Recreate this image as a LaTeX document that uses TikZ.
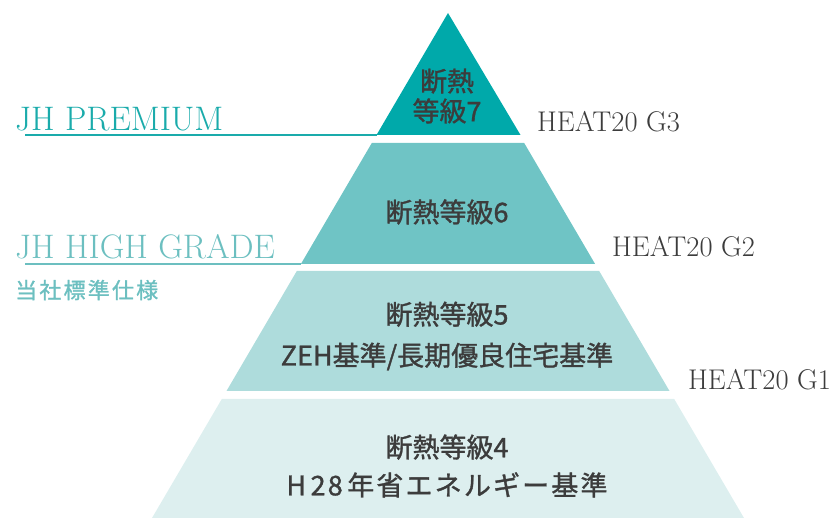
\documentclass[tikz,border=0pt]{standalone}
\usepackage{fontspec}
\newfontfamily\cjk{Noto Sans CJK JP}[FakeBold=1.2]
\newfontfamily\cjkwide{Noto Sans CJK JP}[FakeBold=1.2, LetterSpace=8]

\definecolor{levelseven}{HTML}{00A9AA}
\definecolor{levelsix}{HTML}{6FC4C5}
\definecolor{levelfive}{HTML}{AEDCDC}
\definecolor{levelfour}{HTML}{DDEFEF}
\definecolor{premcol}{HTML}{1AABAB}
\definecolor{highcol}{HTML}{6CBFC0}
\definecolor{inkgray}{HTML}{3C3C3C}

\tikzset{
  lvltext/.style={font=\cjk\fontsize{27}{41}\selectfont, text=inkgray, align=center},
  heatlabel/.style={font=\fontsize{28.5}{30}\selectfont, text=inkgray, anchor=west, inner sep=0pt},
  gradelabel/.style={font=\fontsize{34}{36}\selectfont, anchor=base west, inner sep=0pt},
}

\begin{document}
\begin{tikzpicture}[x=1pt, y=-1pt]
\useasboundingbox (0,0) rectangle (836,518);

% Level 7
\fill[levelseven] (448,13) -- (520.5,135) -- (376.5,135) -- cycle;
\coordinate (t7left) at (376.5,135);
\node[lvltext, font=\cjk\fontsize{27}{30}\selectfont] at (447,96) (l7) {断熱\\等級7};

% Level 6
\fill[levelsix] (371.8,143) -- (524.2,143) -- (595.1,264) -- (300.9,264) -- cycle;
\coordinate (t6left) at (300.9,264);
\node[lvltext] at (447,212) (l6) {断熱等級6};

% Level 5
\fill[levelfive] (296.8,271) -- (599.2,271) -- (669.5,391) -- (226.5,391) -- cycle;
\node[lvltext] at (447,336) (l5) {断熱等級5\\ZEH基準/長期優良住宅基準};

% Level 4
\fill[levelfour] (221.8,399) -- (674.2,399) -- (744,518) -- (152,518) -- cycle;
\node[lvltext, font=\cjk\fontsize{27}{38}\selectfont] at (447,466) (l4)
  {断熱等級4\\{\cjkwide H\,28\,年省エネルギー基準}};

% HEAT20
\node[heatlabel] at (537,122) (h3) {HEAT20 G3};
\node[heatlabel] at (612,247) (h2) {HEAT20 G2};
\node[heatlabel] at (688,380) (h1) {HEAT20 G1};

% grades
\node[gradelabel, text=premcol] at (15,131) (prem) {JH PREMIUM};
\coordinate (premline) at (25,135);
\draw[premcol, line width=1.3pt] (premline) -- (t7left);

\node[gradelabel, text=highcol] at (15,259) (high) {JH HIGH GRADE};
\coordinate (highline) at (25,264);
\draw[highcol, line width=1.3pt] (highline) -- (t6left);

\node[font=\cjk\fontsize{22}{24}\selectfont\addfontfeatures{LetterSpace=10}, text=highcol,
  anchor=west, inner sep=0pt] at (15,290) (std) {当社標準仕様};
\end{tikzpicture}
\end{document}
